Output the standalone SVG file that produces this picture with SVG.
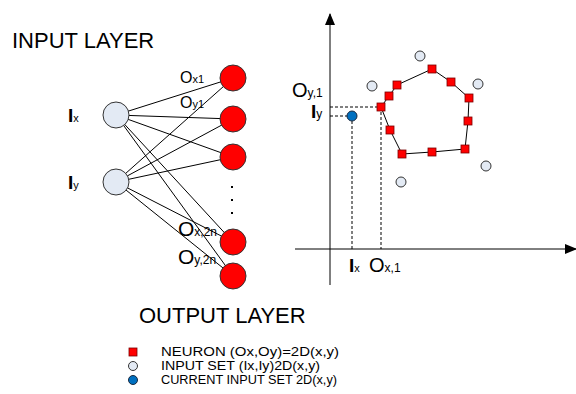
<svg xmlns="http://www.w3.org/2000/svg" width="576" height="394" viewBox="0 0 576 394">
<defs>
<style>
text{font-family:"Liberation Sans",Arial,sans-serif;fill:#000}
.big{font-size:22px}
.lbl{font-size:19px}
.sub{font-size:11px}
.leg{font-size:12px}
.inp{fill:#E3EAF4;stroke:#333;stroke-width:1}
.out{fill:#FF0000;stroke:#333;stroke-width:1}
.neu{fill:#FF0000;stroke:#7a0000;stroke-width:0.8}
.cur{fill:#0070C0;stroke:#1a2a40;stroke-width:1}
.ln{stroke:#000;stroke-width:1;fill:none}
.dash{stroke:#000;stroke-width:1;stroke-dasharray:3,2;fill:none}
</style>
<marker id="ah" markerWidth="12" markerHeight="10" refX="11" refY="5" orient="auto" markerUnits="userSpaceOnUse">
<path d="M0,0 L12,5 L0,10 Z" fill="#000"/>
</marker>
</defs>
<rect width="576" height="394" fill="#fff"/>

<text class="big" x="12" y="48">INPUT LAYER</text>
<text class="big" x="139" y="323">OUTPUT LAYER</text>

<g id="connectors">
<line class="ln" x1="116" y1="115" x2="233" y2="78"/>
<line class="ln" x1="116" y1="115" x2="233" y2="119"/>
<line class="ln" x1="116" y1="115" x2="233" y2="157"/>
<line class="ln" x1="116" y1="115" x2="233" y2="242"/>
<line class="ln" x1="116" y1="115" x2="233" y2="276"/>
<line class="ln" x1="116" y1="182" x2="233" y2="78"/>
<line class="ln" x1="116" y1="182" x2="233" y2="119"/>
<line class="ln" x1="116" y1="182" x2="233" y2="157"/>
<line class="ln" x1="116" y1="182" x2="233" y2="242"/>
<line class="ln" x1="116" y1="182" x2="233" y2="276"/>
</g>

<g id="in-x"><circle class="inp" cx="116" cy="115" r="13"/></g>
<g id="in-y"><circle class="inp" cx="116" cy="182" r="13"/></g>
<g id="out-1"><circle class="out" cx="233" cy="78" r="13"/></g>
<g id="out-2"><circle class="out" cx="233" cy="119" r="13"/></g>
<g id="out-3"><circle class="out" cx="233" cy="157" r="13"/></g>
<g id="out-4"><circle class="out" cx="233" cy="242" r="13"/></g>
<g id="out-5"><circle class="out" cx="233" cy="276" r="13"/></g>

<g id="dots" fill="#000">
<rect x="231" y="186" width="2" height="2"/>
<rect x="231" y="199" width="2" height="2"/>
<rect x="231" y="212" width="2" height="2"/>
</g>

<g id="labels-left">
<text x="68" y="122"><tspan class="lbl" font-weight="bold">I</tspan><tspan class="sub">x</tspan></text>
<text x="68" y="189"><tspan class="lbl" font-weight="bold">I</tspan><tspan class="sub">y</tspan></text>
<text x="180" y="83"><tspan font-size="16">O</tspan><tspan class="sub">x1</tspan></text>
<text x="180" y="108"><tspan font-size="16">O</tspan><tspan class="sub">y1</tspan></text>
<text x="178" y="236"><tspan font-size="21">O</tspan><tspan font-size="12">x,2n</tspan></text>
<text x="178" y="264"><tspan font-size="21">O</tspan><tspan font-size="12">y,2n</tspan></text>
</g>

<g id="axes">
<line class="ln" x1="330" y1="285" x2="330" y2="14" marker-end="url(#ah)"/>
<line class="ln" x1="295" y1="249" x2="576" y2="249" marker-end="url(#ah)"/>
</g>

<g id="guides">
<line class="dash" x1="330" y1="116" x2="352" y2="116"/>
<line class="dash" x1="352" y1="116" x2="352" y2="249"/>
<line class="dash" x1="330" y1="107" x2="381" y2="107"/>
<line class="dash" x1="381" y1="107" x2="381" y2="249"/>
</g>

<g id="ring">
<polygon class="ln" points="381,107 389,96 397,85 432,69 451,82 469,98 468,121 465,149 432,152 402,154 390,130"/>
</g>

<g id="neurons">
<rect class="neu" x="377" y="103" width="8" height="8"/>
<rect class="neu" x="385" y="92" width="8" height="8"/>
<rect class="neu" x="393" y="81" width="8" height="8"/>
<rect class="neu" x="428" y="65" width="8" height="8"/>
<rect class="neu" x="447" y="78" width="8" height="8"/>
<rect class="neu" x="465" y="94" width="8" height="8"/>
<rect class="neu" x="464" y="117" width="8" height="8"/>
<rect class="neu" x="461" y="145" width="8" height="8"/>
<rect class="neu" x="428" y="148" width="8" height="8"/>
<rect class="neu" x="398" y="150" width="8" height="8"/>
<rect class="neu" x="386" y="126" width="8" height="8"/>
</g>

<g id="inputs">
<circle class="inp" cx="420" cy="56" r="5"/>
<circle class="inp" cx="372" cy="86" r="5"/>
<circle class="inp" cx="478" cy="84" r="5"/>
<circle class="inp" cx="486" cy="166" r="5"/>
<circle class="inp" cx="401" cy="182" r="5"/>
</g>

<g id="current"><circle class="cur" cx="352" cy="116" r="5"/></g>

<g id="labels-right">
<text x="292" y="97"><tspan font-size="20">O</tspan><tspan font-size="12">y,1</tspan></text>
<text x="311" y="118"><tspan class="lbl" font-weight="bold">I</tspan><tspan font-size="12">y</tspan></text>
<text x="349" y="272"><tspan class="lbl" font-weight="bold">I</tspan><tspan class="sub">x</tspan></text>
<text x="369" y="272"><tspan font-size="20">O</tspan><tspan font-size="12">x,1</tspan></text>
</g>

<g id="legend">
<rect class="neu" x="129" y="348" width="8" height="8"/>
<circle class="inp" cx="133" cy="366" r="4.5"/>
<circle class="cur" cx="133" cy="380" r="4.5"/>
<text class="leg" x="161" y="356" textLength="178" lengthAdjust="spacingAndGlyphs">NEURON (Ox,Oy)=2D(x,y)</text>
<text class="leg" x="161" y="370" textLength="159" lengthAdjust="spacingAndGlyphs">INPUT SET (Ix,Iy)2D(x,y)</text>
<text class="leg" x="161" y="384" textLength="176" lengthAdjust="spacingAndGlyphs">CURRENT INPUT SET 2D(x,y)</text>
</g>
</svg>
